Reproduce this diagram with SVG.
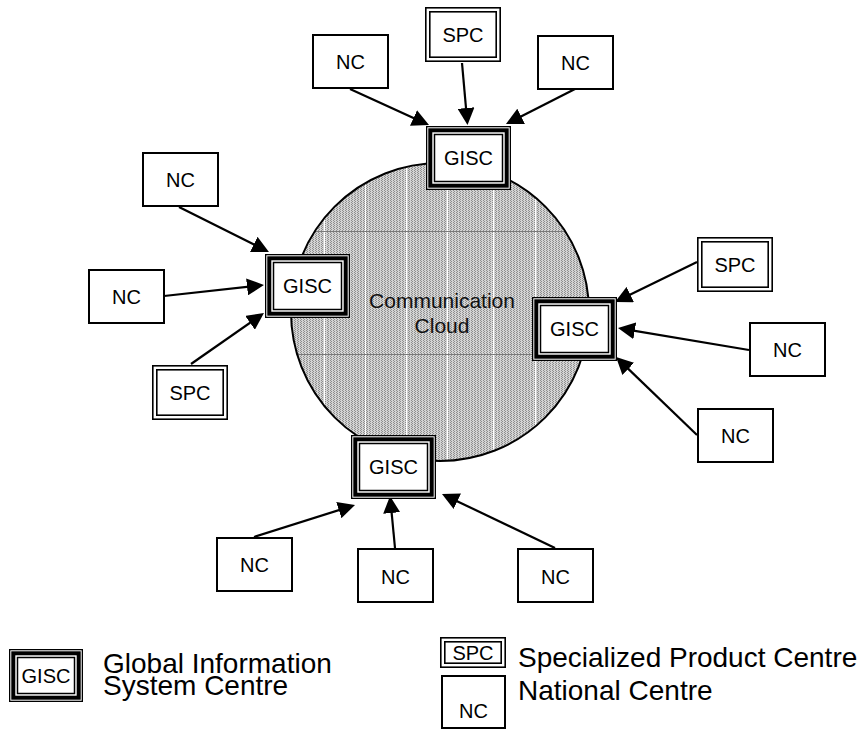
<svg xmlns="http://www.w3.org/2000/svg" width="866" height="729" viewBox="0 0 866 729">
  <style>
    text { font-family: "Liberation Sans", Arial, Helvetica, sans-serif; fill: #000; }
    .lbl { font-size: 20px; text-anchor: middle; }
    .leg { font-size: 28px; }
    .cloud { font-size: 21px; text-anchor: middle; fill: #111; }
    .g-out { fill: #fff; stroke: #000; stroke-width: 1.3; }
    .g-thick { fill: none; stroke: #000; stroke-width: 4; }
    .g-in { fill: #fff; stroke: #000; stroke-width: 1.5; }
    .s-out { fill: #fff; stroke: #000; stroke-width: 1.6; }
    .s-in { fill: #fff; stroke: #000; stroke-width: 1.6; }
    .nc { fill: #fff; stroke: #000; stroke-width: 2; }
    .conn line { stroke: #000; stroke-width: 2.2; marker-end: url(#ah); }
    .tile-v { stroke: #fff; stroke-width: 1; }
    .tile-h { stroke: #7a7a7a; stroke-width: 1; }
  </style>
  <defs>
    <marker id="ah" viewBox="0 0 17 17" refX="9" refY="8.5" markerWidth="17" markerHeight="17" markerUnits="userSpaceOnUse" orient="auto">
      <path d="M0,0 L17,8.5 L0,17 z" fill="#000"/>
    </marker>
    <pattern id="hatch" width="3" height="2" patternUnits="userSpaceOnUse">
      <rect width="3" height="2" fill="#d4d4d4"/>
      <rect x="0" y="0" width="1" height="1" fill="#8e8e8e"/>
      <rect x="1" y="1" width="1" height="1" fill="#8e8e8e"/>
    </pattern>
    <clipPath id="cc"><circle cx="440" cy="312" r="149"/></clipPath>
  </defs>

  <!-- Communication cloud -->
  <g id="cloud">
    <circle cx="440" cy="312" r="149" fill="url(#hatch)"/>
    <g clip-path="url(#cc)">
      <line class="tile-v" x1="324.5" y1="150" x2="324.5" y2="470"/>
      <line class="tile-v" x1="365.5" y1="150" x2="365.5" y2="470"/>
      <line class="tile-v" x1="406.5" y1="150" x2="406.5" y2="470"/>
      <line class="tile-v" x1="447.5" y1="150" x2="447.5" y2="470"/>
      <line class="tile-v" x1="493.5" y1="150" x2="493.5" y2="470"/>
      <line class="tile-v" x1="535.5" y1="150" x2="535.5" y2="470"/>
      <line class="tile-h" x1="280" y1="231.5" x2="600" y2="231.5"/>
      <line class="tile-h" x1="280" y1="354.5" x2="600" y2="354.5"/>
    </g>
    <circle cx="440" cy="312" r="149" fill="none" stroke="#000" stroke-width="2"/>
    <text class="cloud" x="442" y="308">Communication</text>
    <text class="cloud" x="442" y="333">Cloud</text>
  </g>

  <!-- Connectors -->
  <g id="connectors" class="conn">
    <line x1="350" y1="89" x2="421.7" y2="121.7"/>
    <line x1="462" y1="63" x2="466.8" y2="117"/>
    <line x1="575" y1="89" x2="513.1" y2="120.4"/>
    <line x1="179" y1="207" x2="261.8" y2="248.4"/>
    <line x1="164" y1="296" x2="256" y2="285.9"/>
    <line x1="191" y1="364" x2="257.4" y2="317.6"/>
    <line x1="697" y1="262" x2="622.2" y2="298.5"/>
    <line x1="749" y1="350" x2="625.9" y2="329.3"/>
    <line x1="697" y1="435" x2="621.8" y2="362.6"/>
    <line x1="254" y1="537" x2="347.4" y2="507.4"/>
    <line x1="395" y1="548" x2="390.8" y2="504"/>
    <line x1="555" y1="548" x2="449.2" y2="497.4"/>
  </g>

  <!-- GISC nodes -->
  <g id="gisc-top">
    <rect class="g-out" x="426.65" y="126.65" width="83.7" height="62.7"/>
    <rect class="g-thick" x="430.3" y="130.3" width="76.4" height="55.4"/>
    <rect class="g-in" x="434.5" y="134.5" width="68" height="47"/>
    <text class="lbl" x="468.5" y="165">GISC</text>
  </g>
  <g id="gisc-left">
    <rect class="g-out" x="265.65" y="254.65" width="83.7" height="62.7"/>
    <rect class="g-thick" x="269.3" y="258.3" width="76.4" height="55.4"/>
    <rect class="g-in" x="273.5" y="262.5" width="68" height="47"/>
    <text class="lbl" x="307.5" y="293">GISC</text>
  </g>
  <g id="gisc-right">
    <rect class="g-out" x="532.65" y="297.65" width="83.7" height="62.7"/>
    <rect class="g-thick" x="536.3" y="301.3" width="76.4" height="55.4"/>
    <rect class="g-in" x="540.5" y="305.5" width="68" height="47"/>
    <text class="lbl" x="574.5" y="336">GISC</text>
  </g>
  <g id="gisc-bottom">
    <rect class="g-out" x="351.65" y="435.65" width="83.7" height="62.7"/>
    <rect class="g-thick" x="355.3" y="439.3" width="76.4" height="55.4"/>
    <rect class="g-in" x="359.5" y="443.5" width="68" height="47"/>
    <text class="lbl" x="393.5" y="474">GISC</text>
  </g>

  <!-- SPC nodes -->
  <g id="spc-top">
    <rect class="s-out" x="425.8" y="7.8" width="74.4" height="53.4"/>
    <rect class="s-in" x="429.8" y="11.8" width="66.4" height="45.4"/>
    <text class="lbl" x="463" y="41.5">SPC</text>
  </g>
  <g id="spc-right">
    <rect class="s-out" x="697.8" y="237.8" width="74.4" height="53.4"/>
    <rect class="s-in" x="701.8" y="241.8" width="66.4" height="45.4"/>
    <text class="lbl" x="735" y="271.5">SPC</text>
  </g>
  <g id="spc-left">
    <rect class="s-out" x="152.8" y="365.8" width="74.4" height="53.4"/>
    <rect class="s-in" x="156.8" y="369.8" width="66.4" height="45.4"/>
    <text class="lbl" x="190" y="399.5">SPC</text>
  </g>

  <!-- NC nodes -->
  <g id="nc-top-left">
    <rect class="nc" x="313" y="35" width="75" height="53"/>
    <text class="lbl" x="350.5" y="68.5">NC</text>
  </g>
  <g id="nc-top-right">
    <rect class="nc" x="538" y="36" width="75" height="53"/>
    <text class="lbl" x="575.5" y="69.5">NC</text>
  </g>
  <g id="nc-left-top">
    <rect class="nc" x="143" y="153" width="75" height="53"/>
    <text class="lbl" x="180.5" y="186.5">NC</text>
  </g>
  <g id="nc-left-mid">
    <rect class="nc" x="89" y="270" width="75" height="53"/>
    <text class="lbl" x="126.5" y="303.5">NC</text>
  </g>
  <g id="nc-right-mid">
    <rect class="nc" x="750" y="323" width="75" height="53"/>
    <text class="lbl" x="787.5" y="356.5">NC</text>
  </g>
  <g id="nc-right-bottom">
    <rect class="nc" x="698" y="409" width="75" height="53"/>
    <text class="lbl" x="735.5" y="442.5">NC</text>
  </g>
  <g id="nc-bottom-left">
    <rect class="nc" x="217" y="538" width="75" height="53"/>
    <text class="lbl" x="254.5" y="572">NC</text>
  </g>
  <g id="nc-bottom-mid">
    <rect class="nc" x="358" y="549" width="75" height="53"/>
    <text class="lbl" x="395.5" y="584">NC</text>
  </g>
  <g id="nc-bottom-right">
    <rect class="nc" x="518" y="549" width="75" height="53"/>
    <text class="lbl" x="555.5" y="584">NC</text>
  </g>

  <!-- Legend -->
  <g id="legend-gisc">
    <rect class="g-out" x="9.65" y="649.65" width="72.7" height="51.7"/>
    <rect class="g-thick" x="13.3" y="653.3" width="65.4" height="44.4"/>
    <rect class="g-in" x="17.5" y="657.5" width="57" height="36"/>
    <text class="lbl" x="46" y="683">GISC</text>
    <text class="leg" x="103" y="673">Global Information</text>
    <text class="leg" x="103" y="695">System Centre</text>
  </g>
  <g id="legend-spc">
    <rect class="s-out" x="440.8" y="637.8" width="64.4" height="29.4"/>
    <rect class="s-in" x="444.8" y="641.8" width="56.4" height="21.4"/>
    <text class="lbl" x="473" y="660">SPC</text>
    <text class="leg" x="518" y="667">Specialized Product Centre</text>
  </g>
  <g id="legend-nc">
    <rect class="nc" x="442" y="676" width="63" height="52"/>
    <text class="lbl" x="473.5" y="718">NC</text>
    <text class="leg" x="518" y="700">National Centre</text>
  </g>
</svg>
